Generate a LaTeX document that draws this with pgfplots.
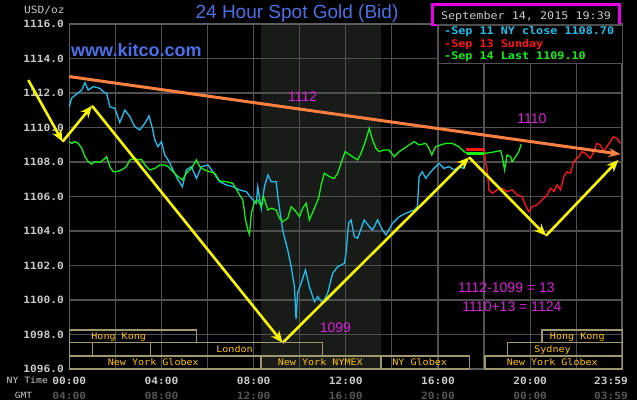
\documentclass[border=0pt]{standalone}
\usepackage{fontspec}
\setmainfont{Liberation Sans}
\newfontfamily\pixfont[FakeStretch=1.12]{DejaVu Sans Mono}
\usepackage{pgfplots}
\pgfplotsset{compat=1.18}
\usetikzlibrary{arrows.meta}
\pgfkeys{/pgf/number format/assume math mode=true}
\definecolor{gridc}{RGB}{80,80,80}
\definecolor{framec}{RGB}{92,92,92}
\definecolor{tickc}{RGB}{200,200,200}
\definecolor{gmtc}{RGB}{85,85,85}
\definecolor{shadec}{RGB}{24,27,24}
\definecolor{bluec}{RGB}{30,190,240}
\definecolor{greenc}{RGB}{20,240,20}
\definecolor{redc}{RGB}{255,20,20}
\definecolor{orangec}{RGB}{255,128,64}
\definecolor{yellowc}{RGB}{250,245,0}
\definecolor{magc}{RGB}{220,30,220}
\definecolor{magbox}{RGB}{230,0,230}
\definecolor{titlec}{RGB}{74,112,232}
\definecolor{boxc}{RGB}{160,152,108}
\definecolor{sessc}{RGB}{255,196,0}
\begin{document}
\begin{tikzpicture}
\fill[black] (0pt,0pt) rectangle (637pt,400pt);
% NYMEX session shading (08:20 - 13:30)
\fill[shadec] (261pt,31pt) rectangle (381pt,376pt);
\begin{axis}[
  at={(69.3pt,31pt)}, anchor=south west,
  scale only axis, width=552.6pt, height=345pt,
  xmin=0, xmax=23.983, ymin=1096, ymax=1116,
  clip=false,
  axis line style={draw=none},
  major tick length=0pt, minor tick length=0pt,
  xtick={0,4,8,12,16,20,23.983},
  xticklabels={{00:00\\[3pt]\textcolor{gmtc}{04:00}},{04:00\\[3pt]\textcolor{gmtc}{08:00}},{08:00\\[3pt]\textcolor{gmtc}{12:00}},{12:00\\[3pt]\textcolor{gmtc}{16:00}},{16:00\\[3pt]\textcolor{gmtc}{20:00}},{20:00\\[3pt]\textcolor{gmtc}{00:00}},{\hspace*{-22pt}23:59\\[3pt]\hspace*{-22pt}\textcolor{gmtc}{03:59}}},
  xticklabel style={align=center, font=\pixfont\bfseries\fontsize{10}{12}\selectfont, text=tickc, anchor=north, inner sep=0pt, yshift=-7.4pt},
  ytick={1096,1098,1100,1102,1104,1106,1108,1110,1112,1114,1116},
  yticklabel={\pgfmathprintnumber[fixed,fixed zerofill,precision=1,1000 sep={}]{\tick}},
  yticklabel style={font=\pixfont\bfseries\fontsize{10}{12}\selectfont, text=tickc, anchor=east, inner sep=0pt, xshift=-5.3pt},
]
% grid lines (every 2 hours, every 2 USD), drawn first inside the axis
\draw[gridc, line width=1.2pt] (axis cs:2,1096) -- (axis cs:2,1116) (axis cs:4,1096) -- (axis cs:4,1116) (axis cs:6,1096) -- (axis cs:6,1116) (axis cs:8,1096) -- (axis cs:8,1116) (axis cs:10,1096) -- (axis cs:10,1116) (axis cs:12,1096) -- (axis cs:12,1116) (axis cs:14,1096) -- (axis cs:14,1116) (axis cs:16,1096) -- (axis cs:16,1116) (axis cs:18,1096) -- (axis cs:18,1116) (axis cs:20,1096) -- (axis cs:20,1116) (axis cs:22,1096) -- (axis cs:22,1116);
\draw[gridc, line width=1.2pt] (axis cs:0,1098) -- (axis cs:23.983,1098) (axis cs:0,1100) -- (axis cs:23.983,1100) (axis cs:0,1102) -- (axis cs:23.983,1102) (axis cs:0,1104) -- (axis cs:23.983,1104) (axis cs:0,1106) -- (axis cs:23.983,1106) (axis cs:0,1108) -- (axis cs:23.983,1108) (axis cs:0,1110) -- (axis cs:23.983,1110) (axis cs:0,1112) -- (axis cs:23.983,1112) (axis cs:0,1114) -- (axis cs:23.983,1114);
\draw[framec, line width=1.6pt] (axis cs:0,1096) rectangle (axis cs:23.983,1116);

% Sep 11 (blue)
\addplot[bluec, line width=1.3pt] coordinates {
(0,1111.2) (0.1,1111.7) (0.32,1111.94) (0.54,1112.17) (0.68,1112.6) (0.82,1112.17) (1.04,1112.37) (1.33,1112.27) (1.47,1112.08) (1.62,1111.98) (1.76,1111.2) (1.98,1111.11) (2.19,1110.28) (2.41,1111.01) (2.63,1110.63) (2.84,1110.05) (3.06,1109.86) (3.28,1110.24) (3.46,1110.67) (3.61,1109.95) (3.71,1109.28) (3.85,1108.89) (4.0,1109.18) (4.14,1108.41) (4.29,1108.12) (4.5,1107.54) (4.72,1106.96) (4.91,1106.57) (5.08,1107.54) (5.3,1107.73) (5.52,1107.05) (5.73,1107.73) (6.02,1107.83) (6.23,1107.44) (6.52,1106.86) (6.81,1106.67) (7.1,1106.57) (7.39,1106.38) (7.68,1106.28) (7.97,1105.8) (8.11,1105.6) (8.18,1106.57) (8.33,1105.3) (8.47,1106.57) (8.62,1107.25) (8.76,1106.86) (8.98,1106.86) (9.05,1105.99) (9.26,1104.06) (9.48,1102.9) (9.63,1101.93) (9.77,1100.77) (9.84,1098.9) (9.91,1100.39) (10.06,1100.97) (10.25,1101.74) (10.42,1100.77) (10.64,1099.9) (10.78,1100.19) (11.0,1099.81) (11.21,1100.39) (11.43,1101.55) (11.65,1101.93) (11.94,1102.13) (12.01,1102.71) (12.12,1104.45) (12.23,1104.64) (12.37,1103.67) (12.51,1103.58) (12.8,1104.64) (13.02,1104.25) (13.16,1104.06) (13.38,1104.64) (13.59,1104.06) (13.74,1103.77) (14.03,1104.45) (14.32,1104.83) (14.61,1105.03) (14.97,1105.22) (15.11,1105.41) (15.18,1107.15) (15.32,1107.44) (15.47,1107.05) (15.69,1107.44) (15.9,1107.73) (16.05,1107.92) (16.26,1107.63) (16.48,1107.73) (16.7,1107.54) (16.91,1107.73) (17.09,1107.63) (17.2,1107.92) (17.27,1108.12)
};

% Sep 13 (red)
\addplot[redc, line width=3pt] coordinates {(17.2,1108.74) (18.0,1108.74)};
\addplot[redc, line width=1.3pt] coordinates {
(18.0,1108.74) (18.07,1107.92) (18.14,1107.54) (18.21,1106.38) (18.36,1106.19) (18.57,1106.38) (18.79,1106.48) (19.0,1106.28) (19.22,1106.38) (19.44,1106.09) (19.65,1105.99) (19.8,1105.51) (19.94,1105.12) (20.09,1105.41) (20.3,1105.51) (20.52,1105.8) (20.74,1106.09) (20.88,1106.48) (21.03,1106.28) (21.17,1106.67) (21.32,1106.38) (21.46,1107.15) (21.6,1107.44) (21.75,1107.35) (21.89,1108.02) (22.11,1108.31) (22.25,1108.6) (22.4,1108.5) (22.61,1108.21) (22.76,1108.6) (22.9,1109.08) (23.04,1108.99) (23.19,1108.6) (23.33,1108.89) (23.48,1109.18) (23.62,1109.47) (23.77,1109.37) (23.91,1109.08)
};

% Sep 14 (green)
\addplot[greenc, line width=1.3pt] coordinates {
(0,1109.18) (0.1,1109.08) (0.25,1109.18) (0.39,1109.08) (0.54,1108.79) (0.68,1108.31) (0.82,1108.02) (0.97,1107.88) (1.11,1108.02) (1.33,1107.98) (1.55,1108.21) (1.62,1108.31) (1.76,1107.73) (1.9,1107.44) (2.05,1107.44) (2.27,1107.54) (2.48,1107.73) (2.63,1108.12) (2.84,1108.21) (2.99,1108.12) (3.13,1108.16) (3.28,1107.83) (3.49,1107.54) (3.71,1107.63) (3.93,1107.83) (4.14,1107.83) (4.29,1107.73) (4.5,1107.44) (4.72,1107.15) (4.91,1106.96) (5.08,1107.35) (5.3,1107.63) (5.52,1108.12) (5.66,1107.73) (5.87,1107.54) (6.09,1107.44) (6.31,1107.35) (6.52,1106.9) (6.81,1106.86) (7.1,1106.76) (7.39,1106.09) (7.53,1105.8) (7.65,1104.64) (7.75,1104.06) (7.82,1103.8) (7.9,1105.03) (8.04,1105.7) (8.18,1105.8) (8.33,1105.41) (8.43,1105.99) (8.62,1105.22) (8.76,1105.32) (8.98,1105.22) (9.12,1104.74) (9.26,1104.54) (9.48,1104.74) (9.63,1105.41) (9.84,1105.12) (9.99,1104.83) (10.13,1105.32) (10.28,1105.61) (10.42,1104.64) (10.64,1105.32) (10.82,1105.9) (10.93,1106.67) (11.07,1107.35) (11.29,1107.15) (11.5,1107.05) (11.65,1107.35) (11.79,1107.92) (11.97,1108.6) (12.08,1108.5) (12.29,1108.31) (12.51,1108.12) (12.66,1108.5) (12.87,1109.28) (13.02,1109.95) (13.16,1109.28) (13.31,1108.79) (13.45,1108.6) (13.67,1108.7) (13.88,1108.7) (14.1,1108.31) (14.32,1108.6) (14.53,1108.79) (14.75,1108.99) (14.97,1109.18) (15.18,1108.99) (15.47,1109.08) (15.61,1108.79) (15.73,1108.41) (15.9,1108.89) (16.12,1108.99) (16.34,1109.08) (16.62,1109.08) (16.91,1108.89) (17.13,1108.6) (17.27,1108.5)
};
\addplot[greenc, line width=3pt] coordinates {(17.27,1108.5) (18.0,1108.5)};
\addplot[greenc, line width=1.3pt] coordinates {
(18.0,1108.5) (18.29,1108.55) (18.5,1108.6) (18.72,1108.66) (18.79,1108.31) (18.89,1107.54) (19.0,1108.41) (19.15,1108.31) (19.22,1108.02) (19.37,1108.31) (19.51,1108.6) (19.61,1109.03)
};

% trend line (orange)
\addplot[orangec, line width=3pt, -{Stealth[length=12pt,width=9pt]}] coordinates {(0,1112.95) (23.93,1108.45)};

% yellow arrows
\addplot[yellowc, line width=2.6pt, -{Stealth[length=12pt,width=10pt]}] coordinates {(-1.78,1112.75) (-0.29,1109.18)};
\addplot[yellowc, line width=2.6pt, -{Stealth[length=12pt,width=10pt]}] coordinates {(-0.29,1109.18) (0.985,1111.26)};
\addplot[yellowc, line width=2.6pt, -{Stealth[length=12pt,width=10pt]}] coordinates {(0.985,1111.26) (9.26,1097.52)};
\addplot[yellowc, line width=2.6pt, -{Stealth[length=12pt,width=10pt]}] coordinates {(9.26,1097.52) (17.35,1108.27)};
\addplot[yellowc, line width=2.6pt, -{Stealth[length=12pt,width=10pt]}] coordinates {(17.35,1108.27) (20.69,1103.73)};
\addplot[yellowc, line width=2.6pt, -{Stealth[length=12pt,width=10pt]}] coordinates {(20.69,1103.73) (23.83,1108.12)};

% magenta annotations
\node[text=magc, font=\fontsize{14}{16}\selectfont] at (axis cs:10.13,1111.81) {1112};
\node[text=magc, font=\fontsize{14}{16}\selectfont] at (axis cs:20.08,1110.53) {1110};
\node[text=magc, font=\fontsize{14}{16}\selectfont] at (axis cs:11.55,1098.38) {1099};
\node[text=magc, font=\fontsize{14}{16}\selectfont] at (axis cs:18.97,1100.74) {1112-1099 = 13};
\node[text=magc, font=\fontsize{14}{16}\selectfont] at (axis cs:19.21,1099.61) {1110+13 = 1124};
\end{axis}

% title and headers
\node[anchor=base, text=titlec, font=\fontsize{19}{22}\selectfont] at (297pt,381.7pt) {24 Hour Spot Gold (Bid)};
\node[anchor=base west, inner sep=0pt, text=titlec, font=\bfseries\fontsize{18}{21}\selectfont] at (71pt,343.3pt) {www.kitco.com};
\node[text=tickc, font=\pixfont\fontsize{10}{12}\selectfont, inner sep=0pt] at (44.3pt,390pt) {USD/oz};
\node[text=tickc, font=\pixfont\fontsize{8.75}{10}\selectfont, inner sep=0pt] at (27.3pt,20pt) {NY Time};
\node[text=tickc, font=\pixfont\fontsize{8.5}{10}\selectfont, inner sep=0pt] at (23.5pt,5pt) {GMT};

% timestamp box
\draw[magbox, line width=2.5pt, fill=black] (432.7pt,395.3pt) rectangle (619.3pt,375pt);
\node[anchor=base, inner sep=0pt, text=tickc, font=\pixfont\fontsize{10.5}{12}\selectfont] at (526pt,380.2pt) {September 14, 2015 19:39};

% legend box
\draw[gridc, line width=1.5pt, fill=black] (438pt,336.7pt) rectangle (622.4pt,375pt);
\node[anchor=base west, inner sep=0pt, text=bluec, font=\pixfont\bfseries\fontsize{10.5}{12}\selectfont] at (444pt,365.2pt) {-Sep 11 NY close 1108.70};
\node[anchor=base west, inner sep=0pt, text=redc, font=\pixfont\bfseries\fontsize{10.5}{12}\selectfont] at (444pt,352.9pt) {-Sep 13 Sunday};
\node[anchor=base west, inner sep=0pt, text=greenc, font=\pixfont\bfseries\fontsize{10.5}{12}\selectfont] at (444pt,340.2pt) {-Sep 14 Last 1109.10};

% trading session boxes
\begin{scope}[boxc, line width=1.4pt]
\draw (69.3pt,70pt) rectangle (196.7pt,57.3pt);
\draw (542pt,70pt) rectangle (622.4pt,57.3pt);
\draw (69.3pt,57.3pt) rectangle (92.3pt,44pt);
\draw (92.3pt,57.3pt) rectangle (150.3pt,44pt);
\draw (150.3pt,57.3pt) rectangle (322.7pt,44pt);
\draw (507.3pt,57.3pt) rectangle (622.4pt,44pt);
\draw (69.3pt,44pt) rectangle (261pt,31pt);
\draw (261pt,44pt) rectangle (381pt,31pt);
\draw (381pt,44pt) rectangle (469.7pt,31pt);
\draw (485pt,44pt) rectangle (622.4pt,31pt);
\end{scope}
\begin{scope}[every node/.style={anchor=base, inner sep=0pt, text=sessc, font=\pixfont\fontsize{9}{10}\selectfont}]
\node at (118.7pt,60.4pt) {Hong Kong};
\node at (577.3pt,60.4pt) {Hong Kong};
\node at (234.5pt,47.4pt) {London};
\node at (552.5pt,47.4pt) {Sydney};
\node at (153.3pt,34.2pt) {New York Globex};
\node at (320.3pt,34.2pt) {New York NYMEX};
\node at (419.7pt,34.2pt) {NY Globex};
\node at (552.3pt,34.2pt) {New York Globex};
\end{scope}
\pgfresetboundingbox
\path[use as bounding box] (0pt,0pt) rectangle (637pt,400pt);
\end{tikzpicture}
\end{document}
